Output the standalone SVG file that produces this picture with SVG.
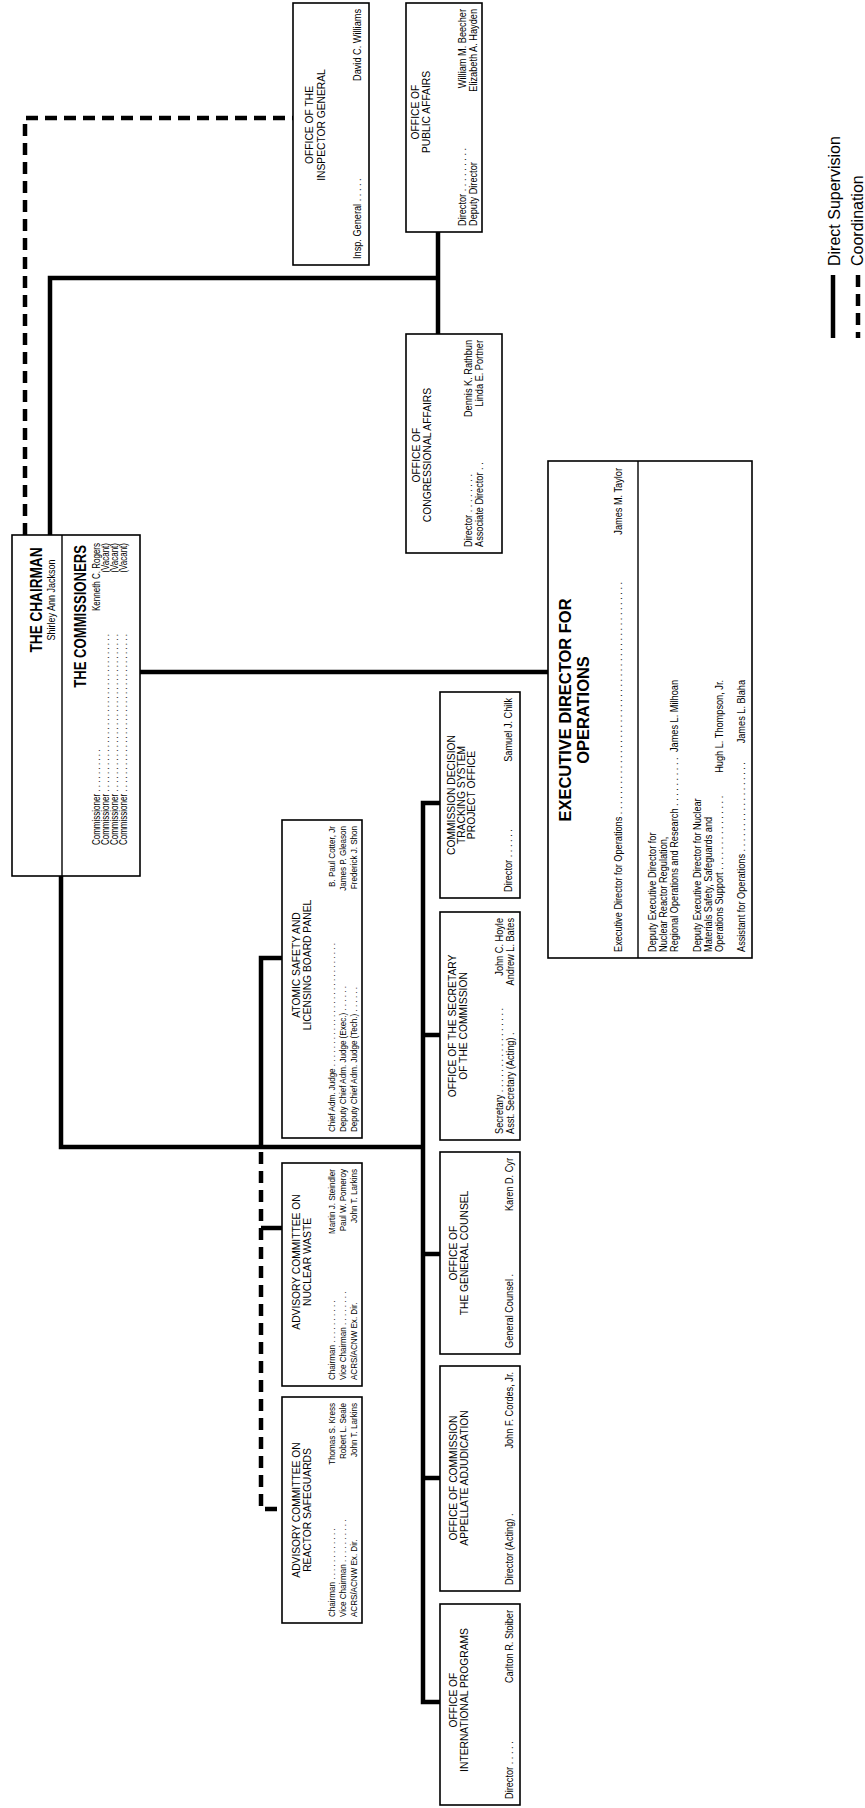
<svg xmlns="http://www.w3.org/2000/svg" width="865" height="1808" viewBox="0 0 865 1808">
<style>
text{font-family:"Liberation Sans",Arial,sans-serif;fill:#000}
.t{font-size:10px}
.s{font-size:9.5px}
.h{font-size:10.5px}
.H{font-size:16px;font-weight:bold}
.m{text-anchor:middle}
.e{text-anchor:end}
.lg{font-size:16px}
.box{fill:#fff;stroke:#000;stroke-width:1.6}
.sol{fill:none;stroke:#000;stroke-width:4.5}
.das{fill:none;stroke:#000;stroke-width:4.5;stroke-dasharray:12 7}
.thin{stroke:#000;stroke-width:1.4}
</style>
<rect width="865" height="1808" fill="#fff"/>
<g id="connectors">
<polyline class="das" points="25,535 25,118 293,118"/>
<polyline class="sol" points="50,535 50,278 438,278"/>
<line class="sol" x1="438" y1="232" x2="438" y2="334"/>
<line class="sol" x1="140" y1="672" x2="548" y2="672"/>
<polyline class="sol" points="61,876 61,1147 423,1147"/>
<polyline class="sol" points="261,1147 261,958 282,958"/>
<polyline class="sol" points="440,803 423,803 423,1702 440,1702"/>
<line class="sol" x1="423" y1="1035" x2="440" y2="1035"/>
<line class="sol" x1="423" y1="1254" x2="440" y2="1254"/>
<line class="sol" x1="423" y1="1478" x2="440" y2="1478"/>
<polyline class="das" points="261,1152 261,1509 282,1509"/>
<line class="sol" x1="261" y1="1228" x2="282" y2="1228"/>
</g>
<g id="legend">
<line class="sol" x1="833" y1="275" x2="833" y2="338"/>
<line class="das" x1="858" y1="275" x2="858" y2="338"/>
<text class="lg" transform="translate(840,266) rotate(-90)">Direct Supervision</text>
<text class="lg" transform="translate(863,266) rotate(-90)">Coordination</text>
</g>
<g id="inspector-general">
<rect class="box" x="293" y="3" width="76" height="262"/>
<text class="h m" transform="translate(313,125) rotate(-90) scale(0.98,1)">OFFICE OF THE</text>
<text class="h m" transform="translate(325,125) rotate(-90) scale(0.98,1)">INSPECTOR GENERAL</text>
<text class="t" transform="translate(361,259) rotate(-90) scale(0.92,1)">Insp.  General  . . . . .</text>
<text class="t e" transform="translate(361,9) rotate(-90) scale(0.92,1)">David C. Williams</text>
</g>
<g id="public-affairs">
<rect class="box" x="406" y="3" width="76" height="229"/>
<text class="h m" transform="translate(419,112) rotate(-90) scale(0.98,1)">OFFICE OF</text>
<text class="h m" transform="translate(430,112) rotate(-90) scale(0.98,1)">PUBLIC AFFAIRS</text>
<text class="t" transform="translate(466,226) rotate(-90) scale(0.92,1)">Director . . . . . . . . .</text>
<text class="t e" transform="translate(466,9) rotate(-90) scale(0.92,1)">William M. Beecher</text>
<text class="t" transform="translate(477,226) rotate(-90) scale(0.92,1)">Deputy Director</text>
<text class="t e" transform="translate(477,9) rotate(-90) scale(0.92,1)">Elizabeth A. Hayden</text>
</g>
<g id="congressional-affairs">
<rect class="box" x="406" y="334" width="96" height="219"/>
<text class="h m" transform="translate(420,455) rotate(-90) scale(0.98,1)">OFFICE OF</text>
<text class="h m" transform="translate(431,455) rotate(-90) scale(0.98,1)">CONGRESSIONAL AFFAIRS</text>
<text class="t" transform="translate(472,547) rotate(-90) scale(0.92,1)">Director . . . . . . . .</text>
<text class="t e" transform="translate(472,340) rotate(-90) scale(0.92,1)">Dennis K. Rathbun</text>
<text class="t" transform="translate(483,547) rotate(-90) scale(0.92,1)">Associate Director . .</text>
<text class="t e" transform="translate(483,340) rotate(-90) scale(0.92,1)">Linda E. Portner</text>
</g>
<g id="chairman">
<rect class="box" x="12" y="535" width="128" height="341"/>
<line class="thin" x1="62" y1="535" x2="62" y2="876"/>
<text class="H m" style="font-size:17px" transform="translate(42,600) rotate(-90) scale(0.8,1)">THE CHAIRMAN</text>
<text class="m" style="font-size:10px" transform="translate(55,600) rotate(-90) scale(0.9,1)">Shirley Ann Jackson</text>
<text class="H e" transform="translate(86,545) rotate(-90) scale(0.82,1)">THE COMMISSIONERS</text>
<text class="t" transform="translate(100,845) rotate(-90) scale(0.8,1)">Commissioner  . . . . . . . . . .</text>
<text class="t e" transform="translate(100,543) rotate(-90) scale(0.8,1)">Kenneth C. Rogers</text>
<text class="t" transform="translate(109,845) rotate(-90) scale(0.8,1)">Commissioner  . . . . . . . . . . . . . . . . . . . . . . . . . . . . . . . . . . . .</text>
<text class="t e" transform="translate(109,543) rotate(-90) scale(0.8,1)">(Vacant)</text>
<text class="t" transform="translate(118,845) rotate(-90) scale(0.8,1)">Commissioner  . . . . . . . . . . . . . . . . . . . . . . . . . . . . . . . . . . . .</text>
<text class="t e" transform="translate(118,543) rotate(-90) scale(0.8,1)">(Vacant)</text>
<text class="t" transform="translate(127,845) rotate(-90) scale(0.8,1)">Commissioner  . . . . . . . . . . . . . . . . . . . . . . . . . . . . . . . . . . . .</text>
<text class="t e" transform="translate(127,543) rotate(-90) scale(0.8,1)">(Vacant)</text>
</g>
<g id="edo">
<rect class="box" x="548" y="461" width="204" height="497"/>
<line class="thin" x1="638" y1="461" x2="638" y2="958"/>
<text class="H m" style="font-size:17px" transform="translate(571,710) rotate(-90) scale(0.97,1)">EXECUTIVE DIRECTOR FOR</text>
<text class="H m" style="font-size:17px" transform="translate(589,710) rotate(-90) scale(0.97,1)">OPERATIONS</text>
<text class="t" transform="translate(622,952) rotate(-90) scale(0.92,1)">Executive Director for Operations  . . . . . . . . . . . . . . . . . . . . . . . . . . . . . . . . . . . . . . . . . . . . . .</text>
<text class="t e" transform="translate(622,468) rotate(-90) scale(0.92,1)">James M. Taylor</text>
<text class="t" transform="translate(656,952) rotate(-90) scale(0.92,1)">Deputy Executive Director for</text>
<text class="t" transform="translate(667,952) rotate(-90) scale(0.92,1)">Nuclear Reactor Regulation,</text>
<text class="t" transform="translate(678,952) rotate(-90) scale(0.92,1)">Regional Operations and Research  . . . . . . . . . .</text>
<text class="t e" transform="translate(678,680) rotate(-90) scale(0.92,1)">James L. Milhoan</text>
<text class="t" transform="translate(701,952) rotate(-90) scale(0.92,1)">Deputy Executive Director for Nuclear</text>
<text class="t" transform="translate(712,952) rotate(-90) scale(0.92,1)">Materials Safety, Safeguards and</text>
<text class="t" transform="translate(723,952) rotate(-90) scale(0.92,1)">Operations Support  . . . . . . . . . . . . . . .</text>
<text class="t e" transform="translate(723,680) rotate(-90) scale(0.92,1)">Hugh L. Thompson, Jr.</text>
<text class="t" transform="translate(745,952) rotate(-90) scale(0.92,1)">Assistant for Operations  . . . . . . . . . . . . . . . . . .</text>
<text class="t e" transform="translate(745,680) rotate(-90) scale(0.92,1)">James L. Blaha</text>
</g>
<g id="aslbp">
<rect class="box" x="282" y="820" width="80" height="318"/>
<text class="h m" transform="translate(300,965) rotate(-90) scale(0.98,1)">ATOMIC SAFETY AND</text>
<text class="h m" transform="translate(311,965) rotate(-90) scale(0.98,1)">LICENSING BOARD PANEL</text>
<text class="s" transform="translate(335,1132) rotate(-90) scale(0.85,1)">Chief Adm. Judge  . . . . . . . . . . . . . . . . . . . . . . . . . . . .</text>
<text class="s e" transform="translate(335,826) rotate(-90) scale(0.85,1)">B. Paul Cotter, Jr</text>
<text class="s" transform="translate(346,1132) rotate(-90) scale(0.85,1)">Deputy Chief Adm. Judge (Exec.)  . . . . . .</text>
<text class="s e" transform="translate(346,826) rotate(-90) scale(0.85,1)">James P. Gleason</text>
<text class="s" transform="translate(357,1132) rotate(-90) scale(0.85,1)">Deputy Chief Adm. Judge (Tech.)  . . . . . .</text>
<text class="s e" transform="translate(357,826) rotate(-90) scale(0.85,1)">Frederick J. Shon</text>
</g>
<g id="acnw">
<rect class="box" x="282" y="1163" width="80" height="223"/>
<text class="h m" transform="translate(300,1262) rotate(-90) scale(0.98,1)">ADVISORY COMMITTEE ON</text>
<text class="h m" transform="translate(311,1262) rotate(-90) scale(0.98,1)">NUCLEAR WASTE</text>
<text class="s" transform="translate(335,1380) rotate(-90) scale(0.85,1)">Chairman  . . . . . . . . . .</text>
<text class="s e" transform="translate(335,1169) rotate(-90) scale(0.85,1)">Martin J. Steindler</text>
<text class="s" transform="translate(346,1380) rotate(-90) scale(0.85,1)">Vice Chairman  . . . . . . . .</text>
<text class="s e" transform="translate(346,1169) rotate(-90) scale(0.85,1)">Paul W. Pomeroy</text>
<text class="s" transform="translate(357,1380) rotate(-90) scale(0.85,1)">ACRS/ACNW Ex. Dir.</text>
<text class="s e" transform="translate(357,1169) rotate(-90) scale(0.85,1)">John T. Larkins</text>
</g>
<g id="acrs">
<rect class="box" x="282" y="1397" width="80" height="226"/>
<text class="h m" transform="translate(300,1510) rotate(-90) scale(0.98,1)">ADVISORY COMMITTEE ON</text>
<text class="h m" transform="translate(311,1510) rotate(-90) scale(0.98,1)">REACTOR SAFEGUARDS</text>
<text class="s" transform="translate(335,1617) rotate(-90) scale(0.85,1)">Chairman  . . . . . . . . . . . .</text>
<text class="s e" transform="translate(335,1403) rotate(-90) scale(0.85,1)">Thomas S. Kress</text>
<text class="s" transform="translate(346,1617) rotate(-90) scale(0.85,1)">Vice Chairman  . . . . . . . . . .</text>
<text class="s e" transform="translate(346,1403) rotate(-90) scale(0.85,1)">Robert L. Seale</text>
<text class="s" transform="translate(357,1617) rotate(-90) scale(0.85,1)">ACRS/ACNW Ex. Dir.</text>
<text class="s e" transform="translate(357,1403) rotate(-90) scale(0.85,1)">John T. Larkins</text>
</g>
<g id="decision-tracking">
<rect class="box" x="440" y="692" width="80" height="206"/>
<text class="h m" transform="translate(455,795) rotate(-90) scale(0.98,1)">COMMISSION DECISION</text>
<text class="h m" transform="translate(465,795) rotate(-90) scale(0.98,1)">TRACKING SYSTEM</text>
<text class="h m" transform="translate(475,795) rotate(-90) scale(0.98,1)">PROJECT OFFICE</text>
<text class="t" transform="translate(512,892) rotate(-90) scale(0.92,1)">Director  . . . . . .</text>
<text class="t e" transform="translate(512,698) rotate(-90) scale(0.92,1)">Samuel J. Chilk</text>
</g>
<g id="secretary">
<rect class="box" x="440" y="912" width="80" height="228"/>
<text class="h m" transform="translate(456,1026) rotate(-90) scale(0.98,1)">OFFICE OF THE SECRETARY</text>
<text class="h m" transform="translate(467,1026) rotate(-90) scale(0.98,1)">OF THE COMMISSION</text>
<text class="t" transform="translate(503,1134) rotate(-90) scale(0.92,1)">Secretary  . . . . . . . . . . . . . . . . .</text>
<text class="t e" transform="translate(503,918) rotate(-90) scale(0.92,1)">John C. Hoyle</text>
<text class="t" transform="translate(514,1134) rotate(-90) scale(0.92,1)">Asst. Secretary (Acting) .</text>
<text class="t e" transform="translate(514,918) rotate(-90) scale(0.92,1)">Andrew L. Bates</text>
</g>
<g id="general-counsel">
<rect class="box" x="440" y="1152" width="80" height="202"/>
<text class="h m" transform="translate(457,1253) rotate(-90) scale(0.98,1)">OFFICE OF</text>
<text class="h m" transform="translate(468,1253) rotate(-90) scale(0.98,1)">THE GENERAL COUNSEL</text>
<text class="t" transform="translate(513,1348) rotate(-90) scale(0.92,1)">General Counsel .</text>
<text class="t e" transform="translate(513,1158) rotate(-90) scale(0.92,1)">Karen D. Cyr</text>
</g>
<g id="appellate-adjudication">
<rect class="box" x="440" y="1366" width="80" height="225"/>
<text class="h m" transform="translate(457,1478) rotate(-90) scale(0.98,1)">OFFICE OF COMMISSION</text>
<text class="h m" transform="translate(468,1478) rotate(-90) scale(0.98,1)">APPELLATE ADJUDICATION</text>
<text class="t" transform="translate(513,1585) rotate(-90) scale(0.92,1)">Director (Acting) .</text>
<text class="t e" transform="translate(513,1372) rotate(-90) scale(0.92,1)">John F. Cordes, Jr.</text>
</g>
<g id="international-programs">
<rect class="box" x="440" y="1604" width="80" height="201"/>
<text class="h m" transform="translate(457,1700) rotate(-90) scale(0.98,1)">OFFICE OF</text>
<text class="h m" transform="translate(468,1700) rotate(-90) scale(0.98,1)">INTERNATIONAL PROGRAMS</text>
<text class="t" transform="translate(513,1799) rotate(-90) scale(0.92,1)">Director  . . . . .</text>
<text class="t e" transform="translate(513,1610) rotate(-90) scale(0.92,1)">Carlton R. Stoiber</text>
</g>
</svg>
